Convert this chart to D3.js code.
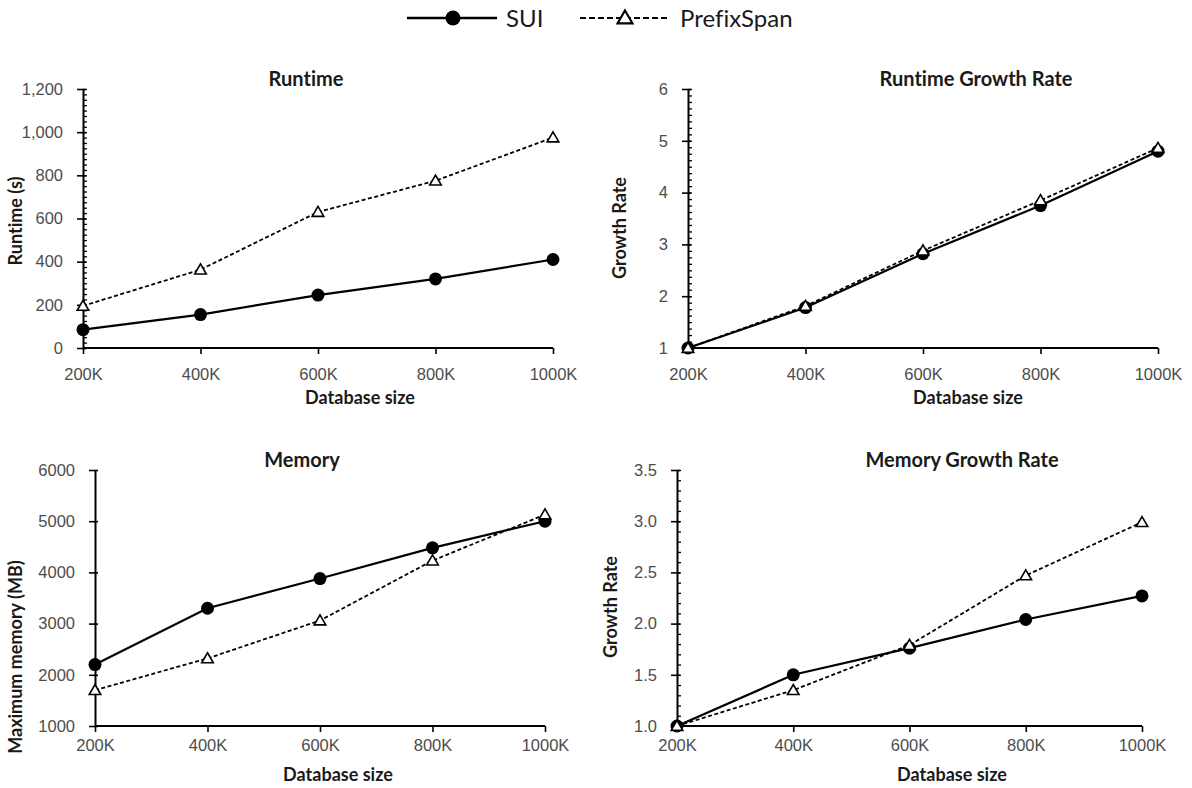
<!DOCTYPE html>
<html>
<head>
<meta charset="utf-8">
<script src="https://cdn.jsdelivr.net/npm/d3@7"></script>
<style>
body { margin: 0; background: #fff; }
svg { font-family: Lato, "Open Sans", sans-serif; font-variant-ligatures: none; }
.tick text { fill: #4d4d4d; font-size: 16.5px; }
.title { font-weight: bold; font-size: 20px; fill: #1a1a1a; }
.label { font-weight: bold; font-size: 18px; fill: #1a1a1a; }
.legend { font-size: 24px; fill: #1a1a1a; }
</style>
</head>
<body>
<svg class="chart"></svg>
<script>
// database sizes on the x axis
var sizes = ["200K", "400K", "600K", "800K", "1000K"];

// runtime in seconds
var runtimeSUI = [85, 155, 245, 320, 410];
var runtimePrefix = [195, 363, 630, 775, 975];

// runtime growth rate
var runGrowthSUI = [1, 1.78, 2.82, 3.75, 4.8];
var runGrowthPrefix = [1, 1.81, 2.88, 3.85, 4.86];

// maximum memory in MB
var memorySUI = [2200, 3300, 3880, 4480, 5000];
var memoryPrefix = [1700, 2320, 3060, 4230, 5130];

// memory growth rate
var memGrowthSUI = [1, 1.5, 1.76, 2.04, 2.27];
var memGrowthPrefix = [1, 1.35, 1.79, 2.47, 2.99];

var makeTranslateString = function(x, y)
{
    return "translate(" + x + "," + y + ")";
}

// plot boxes and where the excel-ish labels sit
var panels = [
    {title: "Runtime", ylabel: "Runtime (s)", sui: runtimeSUI, prefix: runtimePrefix,
     left: 83, right: 553, top: 89, bottom: 348,
     domain: [0, 1200], step: 200, minor: 25, fmt: d3.format(","),
     titleX: 306, xlabX: 360, xlabY: 404, xpad: 14, ylabX: 22, ylabY: 221},
    {title: "Runtime Growth Rate", ylabel: "Growth Rate", sui: runGrowthSUI, prefix: runGrowthPrefix,
     left: 688, right: 1158, top: 89, bottom: 348,
     domain: [1, 6], step: 1, minor: 0.125, fmt: d3.format("d"),
     titleX: 976, xlabX: 968, xlabY: 404, xpad: 14, ylabX: 626, ylabY: 228},
    {title: "Memory", ylabel: "Maximum memory (MB)", sui: memorySUI, prefix: memoryPrefix,
     left: 95, right: 545, top: 470, bottom: 726,
     domain: [1000, 6000], step: 1000, minor: 0, fmt: d3.format("d"),
     titleX: 302, xlabX: 338, xlabY: 781, xpad: 7, ylabX: 22, ylabY: 657},
    {title: "Memory Growth Rate", ylabel: "Growth Rate", sui: memGrowthSUI, prefix: memGrowthPrefix,
     left: 677, right: 1142, top: 470, bottom: 726,
     domain: [1, 3.5], step: 0.5, minor: 0.1, fmt: d3.format(".1f"),
     titleX: 962, xlabX: 952, xlabY: 781, xpad: 7, ylabX: 617, ylabY: 607}
];

var svg = d3.select(".chart")
    .attr("width", 1192)
    .attr("height", 788);

var triangle = d3.symbol().type(d3.symbolTriangle).size(58);
var bigTriangle = d3.symbol().type(d3.symbolTriangle).size(95);

var drawPanel = function(p)
{
    var xScale = d3.scalePoint()
        .domain(sizes)
        .range([p.left, p.right]);

    var yScale = d3.scaleLinear()
        .domain(p.domain)
        .range([p.bottom, p.top]);

    var g = svg.append("g");

    // minor ticks on the inside of the y axis
    if (p.minor > 0)
    {
        var minorTicks = d3.range(p.domain[0], p.domain[1] + p.minor / 2, p.minor);
        g.append("g")
        .attr("transform", makeTranslateString(p.left, 0))
        .call(d3.axisRight(yScale).tickValues(minorTicks).tickSize(4).tickFormat(""))
        .call(function(a) { a.select(".domain").remove(); })
        .selectAll("line").attr("stroke", "#000").attr("stroke-width", 1.3);
    }

    var yTicks = d3.range(p.domain[0], p.domain[1] + p.step / 2, p.step);
    var yAxis = g.append("g")
    .attr("transform", makeTranslateString(p.left, 0))
    .call(d3.axisLeft(yScale).tickValues(yTicks).tickSize(6).tickSizeOuter(0).tickPadding(14).tickFormat(p.fmt));
    yAxis.select(".domain").attr("stroke", "#000").attr("stroke-width", 2);
    yAxis.selectAll(".tick line").attr("stroke", "#000").attr("stroke-width", 1.6).attr("x2", -6).attr("x1", 3);

    var xAxis = g.append("g")
    .attr("transform", makeTranslateString(0, p.bottom))
    .call(d3.axisBottom(xScale).tickSize(6).tickSizeOuter(0).tickPadding(p.xpad));
    xAxis.select(".domain").attr("stroke", "#000").attr("stroke-width", 2)
    .attr("d", "M" + p.left + ",0H" + p.right);
    xAxis.selectAll(".tick line").attr("stroke", "#000").attr("stroke-width", 1.6);

    var line = d3.line()
        .x(function(d, i) { return xScale(sizes[i]); })
        .y(function(d) { return yScale(d); });

    g.append("path")
    .datum(p.prefix)
    .attr("d", line)
    .attr("fill", "none")
    .attr("stroke", "#000")
    .attr("stroke-width", 1.8)
    .attr("stroke-dasharray", "4,2.5");

    g.append("path")
    .datum(p.sui)
    .attr("d", line)
    .attr("fill", "none")
    .attr("stroke", "#000")
    .attr("stroke-width", 2.2);

    g.selectAll(".dot")
    .data(p.sui)
    .enter()
    .append("circle")
    .attr("cx", function(d, i) { return xScale(sizes[i]); })
    .attr("cy", function(d) { return yScale(d); })
    .attr("r", 6.5)
    .attr("fill", "#000");

    g.selectAll(".tri")
    .data(p.prefix)
    .enter()
    .append("path")
    .attr("d", triangle)
    .attr("transform", function(d, i) { return makeTranslateString(xScale(sizes[i]), yScale(d) + 1); })
    .attr("fill", "#fff")
    .attr("stroke", "#000")
    .attr("stroke-width", 1.6);

    g.append("text")
    .text(p.title)
    .classed("title", true)
    .attr("text-anchor", "middle")
    .attr("x", p.titleX)
    .attr("y", p.top - 3);

    g.append("text")
    .text("Database size")
    .classed("label", true)
    .attr("text-anchor", "middle")
    .attr("x", p.xlabX)
    .attr("y", p.xlabY);

    g.append("g")
    .attr("transform", makeTranslateString(p.ylabX, p.ylabY))
    .append("text")
    .text(p.ylabel)
    .classed("label", true)
    .attr("text-anchor", "middle")
    .attr("transform", "rotate(-90)");
}

panels.forEach(drawPanel);

// legend
var legend = svg.append("g");
legend.append("line")
.attr("x1", 407).attr("x2", 497).attr("y1", 18).attr("y2", 18)
.attr("stroke", "#000").attr("stroke-width", 2.6);
legend.append("circle")
.attr("cx", 453).attr("cy", 18).attr("r", 7.5).attr("fill", "#000");
legend.append("text")
.text("SUI").classed("legend", true)
.attr("x", 506).attr("y", 27);

legend.append("line")
.attr("x1", 580).attr("x2", 667).attr("y1", 18).attr("y2", 18)
.attr("stroke", "#000").attr("stroke-width", 2).attr("stroke-dasharray", "6,3");
legend.append("path")
.attr("d", bigTriangle)
.attr("transform", makeTranslateString(625, 19))
.attr("fill", "#fff").attr("stroke", "#000").attr("stroke-width", 2.2);
legend.append("text")
.text("PrefixSpan").classed("legend", true)
.attr("x", 680).attr("y", 27);
</script>
</body>
</html>
